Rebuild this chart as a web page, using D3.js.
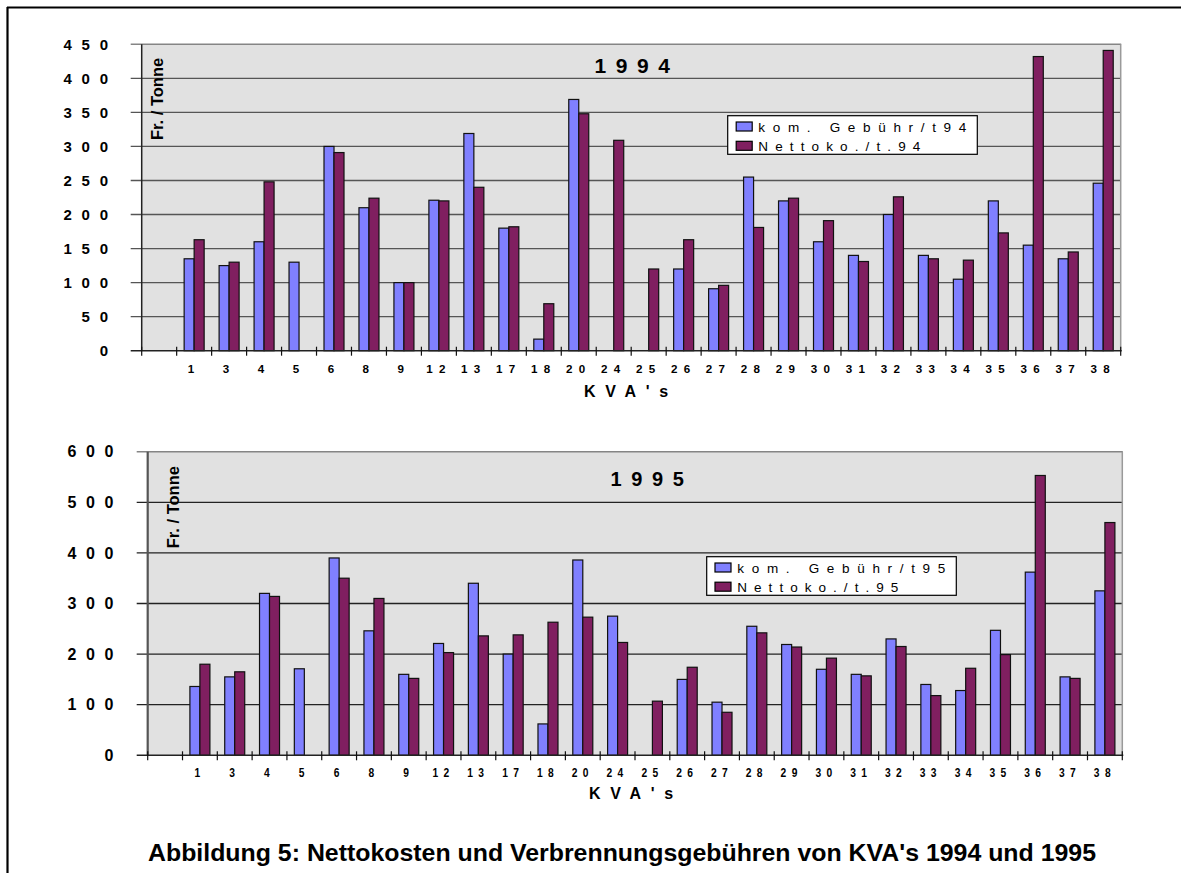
<!DOCTYPE html>
<html>
<head>
<meta charset="utf-8">
<script src="https://cdn.jsdelivr.net/npm/d3@7"></script>
<style>
  html, body { margin: 0; padding: 0; background: #fff; }
  svg { display: block; }
  text { font-family: "Liberation Sans", Arial, sans-serif; fill: #000; }
</style>
</head>
<body>
<svg id="chart" width="1181" height="873"></svg>
<script>
// KVA plant numbers (first slot left empty on the axis)
const kva = ["", "1", "3", "4", "5", "6", "8", "9", "12", "13", "17", "18", "20", "24", "25",
             "26", "27", "28", "29", "30", "31", "32", "33", "34", "35", "36", "37", "38"];

// 1994, Fr. per tonne
const gebuehr94 = [null, 135, 125, 160, 130, 300, 210, 100, 221, 319, 180, 17, 369, null, null,
                   120, 91, 255, 220, 160, 140, 200, 140, 105, 220, 155, 135, 246];
const netto94   = [null, 163, 130, 248, null, 291, 224, 100, 220, 240, 182, 69, 348, 309, 120,
                   163, 96, 181, 224, 191, 131, 226, 135, 133, 173, 432, 145, 441];

// 1995, Fr. per tonne
const gebuehr95 = [null, 136, 155, 320, 171, 390, 246, 160, 221, 340, 200, 62, 386, 275, null,
                   150, 105, 255, 219, 170, 160, 230, 140, 128, 247, 362, 155, 325];
const netto95   = [null, 180, 165, 314, null, 350, 310, 152, 203, 236, 238, 263, 273, 223, 107,
                   174, 85, 242, 214, 192, 157, 215, 118, 172, 199, 553, 152, 460];

const yTicks94 = [0, 50, 100, 150, 200, 250, 300, 350, 400, 450];
const yTicks95 = [0, 100, 200, 300, 400, 500, 600];

const seriesNames94 = ["kom. Gebühr/t94", "Nettoko./t.94"];
const seriesNames95 = ["kom. Gebühr/t95", "Nettoko./t.95"];

const colors = ["#8080ff", "#801f60"];

const svg = d3.select("#chart");

// outer frame (top and left edges)
svg.append("line").attr("x1", 7).attr("y1", 7.5).attr("x2", 1181).attr("y2", 7.5)
  .attr("stroke", "#000").attr("stroke-width", 2.2);
svg.append("line").attr("x1", 7.5).attr("y1", 7).attr("x2", 7.5).attr("y2", 873)
  .attr("stroke", "#000").attr("stroke-width", 2.2);

function drawPanel(p) {
  const g = svg.append("g");
  const x = d3.scaleBand().domain(kva).range([p.left, p.right]).padding(0);
  const inner = d3.scaleBand().domain([0, 1]).range([0, 20]);
  const y = d3.scaleLinear().domain([0, p.yMax]).range([p.bottom, p.top]);
  const bw = x.bandwidth();

  // plot background
  g.append("rect").attr("x", p.left).attr("y", p.top)
    .attr("width", p.right - p.left).attr("height", p.bottom - p.top)
    .attr("fill", "#e1e1e1");

  // gridlines (they run out to the left as tick marks)
  g.selectAll("line.grid").data(p.ticks.filter(t => t > 0 && t < p.yMax)).join("line")
    .attr("class", "grid")
    .attr("x1", p.tickStart).attr("x2", p.right)
    .attr("y1", d => y(d)).attr("y2", d => y(d))
    .attr("stroke", p.gridColor).attr("stroke-width", 1.3);

  // plot border top / right
  g.append("line").attr("x1", p.tickStart).attr("x2", p.right + 0.5)
    .attr("y1", y(p.yMax)).attr("y2", y(p.yMax))
    .attr("stroke", "#858585").attr("stroke-width", 1.5);
  g.append("line").attr("x1", p.right).attr("x2", p.right)
    .attr("y1", p.top).attr("y2", p.bottom)
    .attr("stroke", "#9a9a9a").attr("stroke-width", 1.5);

  // bars
  const series = [p.a, p.b];
  series.forEach((vals, si) => {
    g.selectAll("rect.s" + si)
      .data(kva.map((k, i) => ({ k, v: vals[i] })).filter(d => d.v != null))
      .join("rect")
      .attr("class", "s" + si)
      .attr("x", d => x(d.k) + (bw - 20) / 2 + inner(si))
      .attr("width", inner.bandwidth())
      .attr("y", d => y(d.v))
      .attr("height", d => y(0) - y(d.v))
      .attr("fill", colors[si])
      .attr("stroke", "#111").attr("stroke-width", 1.2);
  });

  // left axis line
  g.append("line").attr("x1", p.left).attr("x2", p.left)
    .attr("y1", p.top).attr("y2", p.bottom)
    .attr("stroke", p.axisColor).attr("stroke-width", p.axisWidth);

  // baseline with band ticks
  g.append("line").attr("x1", p.tickStart).attr("x2", p.right + 1)
    .attr("y1", y(0)).attr("y2", y(0))
    .attr("stroke", "#222").attr("stroke-width", 1.5);
  const edges = kva.map(k => x(k)).concat([p.right]);
  g.selectAll("line.xt").data(edges).join("line")
    .attr("class", "xt")
    .attr("x1", d => d).attr("x2", d => d)
    .attr("y1", y(0) - 4).attr("y2", y(0) + 5)
    .attr("stroke", "#111").attr("stroke-width", 1.2);

  // y tick labels
  g.selectAll("text.yl").data(p.ticks).join("text")
    .attr("class", "yl")
    .attr("x", p.labelRight + p.yLs)
    .attr("y", d => y(d) + p.yFont * 0.36)
    .attr("text-anchor", "end")
    .style("font-size", p.yFont + "px").style("font-weight", "bold")
    .style("letter-spacing", p.yLs + "px")
    .text(d => String(d));

  // x tick labels (optionally horizontally condensed)
  g.selectAll("text.xl").data(kva.filter(k => k !== "")).join("text")
    .attr("class", "xl")
    .attr("transform", d => `translate(${x(d) + bw / 2},${p.xLabelBase}) scale(${p.xScaleX},1)`)
    .attr("text-anchor", "middle")
    .style("font-size", p.xFont + "px").style("font-weight", "bold")
    .style("letter-spacing", p.xLs + "px")
    .text(d => d);

  // axis title
  g.append("text").attr("x", p.kvaX).attr("y", p.kvaBase)
    .attr("text-anchor", "middle")
    .style("font-size", "16px").style("font-weight", "bold")
    .style("letter-spacing", "9.7px")
    .text("KVA's");

  // year heading
  g.append("text").attr("x", p.yearX).attr("y", p.yearBase)
    .attr("text-anchor", "middle")
    .style("font-size", p.yearFont + "px").style("font-weight", "bold")
    .style("letter-spacing", "9.6px")
    .text(p.year);

  // unit label
  g.append("text")
    .attr("transform", `translate(${p.unitX},${p.unitY}) rotate(-90)`)
    .style("font-size", "16.5px").style("font-weight", "bold")
    .text("Fr. / Tonne");

  // legend
  const L = p.legend;
  g.append("rect").attr("x", L.x).attr("y", L.y).attr("width", L.w).attr("height", L.h)
    .attr("fill", "#fff").attr("stroke", "#000").attr("stroke-width", 1.2);
  p.names.forEach((name, i) => {
    g.append("rect")
      .attr("x", L.x + L.sw0).attr("y", L.rows[i] - 9)
      .attr("width", 16).attr("height", 9)
      .attr("fill", colors[i]).attr("stroke", "#000").attr("stroke-width", 1.2);
    g.append("text")
      .attr("x", L.x + L.tx).attr("y", L.rows[i] + 0.5)
      .attr("textLength", L.tl[i]).attr("lengthAdjust", "spacing")
      .style("font-size", "13.5px")
      .text(name);
  });
}

drawPanel({
  left: 141.7, right: 1120.7, top: 44.3, bottom: 350.7, yMax: 450, ticks: yTicks94,
  tickStart: 130.7, labelRight: 108, yFont: 15, yLs: 9.7,
  gridColor: "#555", axisColor: "#222", axisWidth: 1.5,
  a: gebuehr94, b: netto94, names: seriesNames94,
  xLabelBase: 373.3, xFont: 11.6, xLs: 6.3, xScaleX: 1,
  kvaX: 631, kvaBase: 396.7,
  year: "1994", yearX: 637, yearBase: 72.7, yearFont: 21,
  unitX: 163, unitY: 140,
  legend: { x: 727.7, y: 115.7, w: 249.6, h: 38.6, sw0: 8.5, tx: 30.6,
            rows: [131, 150.3], tl: [208, 162] }
});

drawPanel({
  left: 147.7, right: 1122.3, top: 451.7, bottom: 755.3, yMax: 600, ticks: yTicks95,
  tickStart: 136.7, labelRight: 113.3, yFont: 16, yLs: 9.6,
  gridColor: "#222", axisColor: "#555", axisWidth: 2.2,
  a: gebuehr95, b: netto95, names: seriesNames95,
  xLabelBase: 777.3, xFont: 12.5, xLs: 6.5, xScaleX: 0.82,
  kvaX: 636, kvaBase: 799,
  year: "1995", yearX: 652, yearBase: 486, yearFont: 20,
  unitX: 179, unitY: 548.3,
  legend: { x: 706.7, y: 556.7, w: 249.6, h: 38.6, sw0: 8.3, tx: 30.6,
            rows: [572, 591.2], tl: [208, 161] }
});

// figure caption, condensed to its line width
svg.append("text")
  .attr("x", 148).attr("y", 861)
  .attr("textLength", 948).attr("lengthAdjust", "spacingAndGlyphs")
  .style("font-size", "23.5px").style("font-weight", "bold")
  .text("Abbildung 5: Nettokosten und Verbrennungsgebühren von KVA's 1994 und 1995");
</script>
</body>
</html>
